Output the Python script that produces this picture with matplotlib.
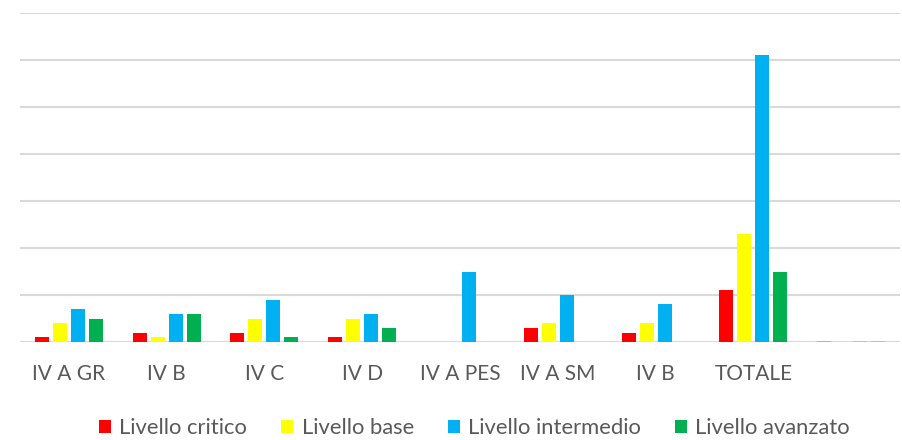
import numpy as np
import matplotlib.pyplot as plt

# dati
classi = ["IV A GR", "IV B", "IV C", "IV D", "IV A PES", "IV A SM", "IV B", "TOTALE", ""]
critico = [1, 2, 2, 1, 0, 3, 2, 11, np.nan]
base = [4, 1, 5, 5, 0, 4, 4, 23, np.nan]
intermedio = [7, 6, 9, 6, 15, 10, 8, 61, np.nan]
avanzato = [5, 6, 1, 3, 0, 0, 0, 15, np.nan]

serie = [critico, base, intermedio, avanzato]
nomi = ["Livello critico", "Livello base", "Livello intermedio", "Livello avanzato"]
colori = ["#FF0000", "#FFFF00", "#00B0F0", "#00B050"]

plt.rcParams['font.family'] = ['Lato', 'DejaVu Sans']

fig = plt.figure(figsize=(9.02, 4.40), dpi=100)
ax = fig.add_axes([20 / 902, 1 - 342 / 440, 880 / 902, 329 / 440])

x = np.arange(len(classi))
passo = 0.184
larg = 0.143

for i, (vals, nome, col) in enumerate(zip(serie, nomi, colori)):
    v = np.array(vals, dtype=float)
    vuoto = np.isnan(v)
    pos = x + (i - 1.5) * passo
    ax.bar(pos[~vuoto], v[~vuoto], width=larg, color=col, label=nome, zorder=3)
    # celle vuote: Excel le lascia come un segno sbiadito sulla base
    ax.bar(pos[vuoto], np.zeros(vuoto.sum()), width=larg, color=col,
           edgecolor=col, linewidth=1.2, alpha=0.3, zorder=3)

ax.set_xlim(-0.5, len(classi) - 0.5)
ax.set_ylim(0, 70)
ax.set_yticks(np.arange(0, 71, 10))
ax.yaxis.grid(True, color="#D9D9D9", linewidth=1.5)
ax.set_axisbelow(True)
ax.tick_params(axis='y', left=False, labelleft=False)
ax.set_xticks(x)
ax.set_xticklabels(classi, fontsize=15, color="#595959")
ax.tick_params(axis='x', length=0, pad=16)
for s in ax.spines.values():
    s.set_visible(False)

leg = fig.legend(loc='center', bbox_to_anchor=(0.526, 1 - 428 / 440), ncol=4,
                 frameon=False, fontsize=15.8, handlelength=0.55, handleheight=0.55,
                 handletextpad=0.37, columnspacing=1.55, labelcolor="#595959")

fig.savefig("out.png", dpi=100)
